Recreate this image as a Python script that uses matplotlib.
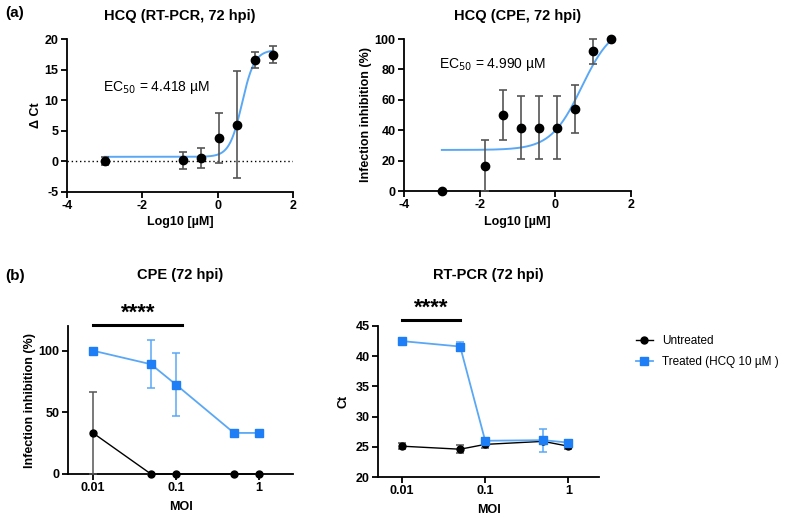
import numpy as np
import matplotlib
matplotlib.use("Agg")
import matplotlib.pyplot as plt
from matplotlib.lines import Line2D

plt.rcParams['font.family'] = ['Liberation Sans', 'DejaVu Sans']
plt.rcParams['axes.unicode_minus'] = False

# ---------------- data ----------------
# (a) left: HCQ RT-PCR dose response
pcr_logx = [-3.0, -0.91, -0.43, 0.046, 0.52, 1.0, 1.48]
pcr_dct = [0.1, 0.2, 0.6, 3.8, 6.0, 16.6, 17.4]
pcr_err = [0.7, 1.4, 1.6, 4.1, 8.7, 1.3, 1.4]
pcr_fit = dict(bottom=0.75, top=18.2, logec50=np.log10(4.418), hill=2.6)

# (a) right: HCQ CPE dose response
cpe_logx = [-3.0, -1.86, -1.39, -0.91, -0.43, 0.046, 0.52, 1.0, 1.48]
cpe_inh = [0.0, 16.7, 50.0, 41.7, 41.7, 41.7, 54.0, 91.8, 100.0]
cpe_err = [0.0, 16.7, 16.5, 20.8, 20.8, 20.8, 16.0, 8.1, 0.0]
cpe_fit = dict(bottom=27.0, top=110.0, logec50=np.log10(4.990), hill=1.06)

# (b) MOI experiments
moi = [0.01, 0.05, 0.1, 0.5, 1.0]
cpe_treated = [100.0, 89.0, 72.5, 33.3, 33.3]
cpe_treated_err = [0.0, 19.3, 25.5, 0.0, 0.0]
cpe_untreated = [33.3, 0.0, 0.0, 0.0, 0.0]
cpe_untreated_err = [33.3, 0.0, 0.0, 0.0, 0.0]

ct_treated = [42.5, 41.6, 26.0, 26.1, 25.7]
ct_treated_err = [0.3, 0.7, 0.4, 1.9, 0.3]
ct_untreated = [25.1, 24.6, 25.4, 25.9, 25.1]
ct_untreated_err = [0.5, 0.7, 0.6, 0.5, 0.5]

BLUE_LINE = '#5AA8F5'
BLUE_MARK = '#1E7EF5'
GREY = '#555555'


def four_pl(x, bottom, top, logec50, hill):
    return bottom + (top - bottom) / (1 + 10 ** ((logec50 - x) * hill))


fig = plt.figure(figsize=(7.87, 5.18), dpi=100)

TICK_FS = 9
LAB_FS = 9
TITLE_FS = 10.5


def style(ax):
    for s in ['top', 'right']:
        ax.spines[s].set_visible(False)
    for s in ['left', 'bottom']:
        ax.spines[s].set_linewidth(1.3)
    ax.tick_params(direction='out', width=1.3, length=4, labelsize=TICK_FS, pad=2)
    for lab in ax.get_xticklabels() + ax.get_yticklabels():
        lab.set_fontweight('bold')


# ---- (a) left
ax1 = fig.add_axes([67 / 787, 1 - 192 / 518, 226 / 787, 153 / 518])
xs = np.linspace(-3, 1.48, 300)
ax1.axhline(0, color='black', lw=1.0, ls=(0, (1, 2)))
ax1.plot(xs, four_pl(xs, **pcr_fit), color=BLUE_LINE, lw=1.4, zorder=2)
ax1.errorbar(pcr_logx, pcr_dct, yerr=pcr_err, fmt='o', color='black', ms=6,
             ecolor=GREY, elinewidth=1.2, capsize=3, capthick=1.2, zorder=3)
ax1.set_xlim(-4, 2)
ax1.set_ylim(-5, 20)
ax1.set_xticks([-4, -2, 0, 2])
ax1.set_yticks([-5, 0, 5, 10, 15, 20])
ax1.set_xlabel('Log10 [µM]', fontsize=LAB_FS, fontweight='bold', labelpad=3)
ax1.set_ylabel('Δ Ct', fontsize=LAB_FS, fontweight='bold', labelpad=2)
ax1.set_title('HCQ (RT-PCR, 72 hpi)', fontsize=TITLE_FS, fontweight='bold', pad=14)
ax1.text(-3.05, 12, r'EC$_{50}$ = 4.418 µM', fontsize=10, va='center')
style(ax1)

# ---- (a) right
ax2 = fig.add_axes([404 / 787, 1 - 191 / 518, 227 / 787, 152 / 518])
xs2 = np.linspace(-3, 1.48, 300)
ax2.plot(xs2, four_pl(xs2, **cpe_fit), color=BLUE_LINE, lw=1.4, zorder=2)
ax2.errorbar(cpe_logx, cpe_inh, yerr=cpe_err, fmt='o', color='black', ms=6,
             ecolor=GREY, elinewidth=1.2, capsize=3, capthick=1.2, zorder=3,
             clip_on=False)
ax2.set_xlim(-4, 2)
ax2.set_ylim(0, 100)
ax2.set_xticks([-4, -2, 0, 2])
ax2.set_yticks([0, 20, 40, 60, 80, 100])
ax2.set_xlabel('Log10 [µM]', fontsize=LAB_FS, fontweight='bold', labelpad=3)
ax2.set_ylabel('Infection inhibition (%)', fontsize=LAB_FS, fontweight='bold', labelpad=2)
ax2.set_title('HCQ (CPE, 72 hpi)', fontsize=TITLE_FS, fontweight='bold', pad=14)
ax2.text(-3.07, 83, r'EC$_{50}$ = 4.990 µM', fontsize=10, va='center')
style(ax2)

# ---- (b) left
ax3 = fig.add_axes([68 / 787, 1 - 474 / 518, 225 / 787, 148 / 518])
ax3.set_xscale('log')
ax3.errorbar(moi, cpe_untreated, yerr=cpe_untreated_err, fmt='-o', color='black',
             lw=1.0, ms=5, ecolor=GREY, elinewidth=1.1, capsize=3, capthick=1.1,
             clip_on=False, zorder=3)
ax3.errorbar(moi, cpe_treated, yerr=cpe_treated_err, fmt='-s', color=BLUE_LINE,
             mfc=BLUE_MARK, mec=BLUE_MARK, lw=1.3, ms=5.5, ecolor=BLUE_LINE,
             elinewidth=1.1, capsize=3, capthick=1.1, clip_on=False, zorder=3)
ax3.set_xlim(10 ** -2.30, 10 ** 0.41)
ax3.set_ylim(0, 120)
ax3.set_yticks([0, 50, 100])
ax3.set_xticks([0.01, 0.1, 1])
ax3.set_xticklabels(['0.01', '0.1', '1'])
ax3.minorticks_off()
ax3.plot([0.01, 0.118], [121, 121], color='black', lw=2.2, clip_on=False)
ax3.text(10 ** -1.46, 121.5, '****', ha='center', va='bottom', fontsize=16, fontweight='bold')
ax3.set_xlabel('MOI', fontsize=LAB_FS, fontweight='bold', labelpad=5)
ax3.set_ylabel('Infection inhibition (%)', fontsize=LAB_FS, fontweight='bold', labelpad=2)
style(ax3)
fig.text(180 / 787, 1 - 275 / 518, 'CPE (72 hpi)', ha='center', va='center',
         fontsize=TITLE_FS, fontweight='bold')

# ---- (b) right
ax4 = fig.add_axes([378 / 787, 1 - 477 / 518, 221 / 787, 151 / 518])
ax4.set_xscale('log')
ax4.errorbar(moi, ct_untreated, yerr=ct_untreated_err, fmt='-o', color='black',
             lw=1.0, ms=5, ecolor=GREY, elinewidth=1.1, capsize=3, capthick=1.1,
             zorder=3)
ax4.errorbar(moi, ct_treated, yerr=ct_treated_err, fmt='-s', color=BLUE_LINE,
             mfc=BLUE_MARK, mec=BLUE_MARK, lw=1.3, ms=5.5, ecolor=BLUE_LINE,
             elinewidth=1.1, capsize=3, capthick=1.1, zorder=3)
ax4.set_xlim(10 ** -2.29, 10 ** 0.37)
ax4.set_ylim(20, 45)
ax4.set_yticks([20, 25, 30, 35, 40, 45])
ax4.set_xticks([0.01, 0.1, 1])
ax4.set_xticklabels(['0.01', '0.1', '1'])
ax4.minorticks_off()
ax4.plot([0.01, 0.05], [46.05, 46.05], color='black', lw=2.2, clip_on=False)
ax4.text(10 ** -1.65, 46.2, '****', ha='center', va='bottom', fontsize=16, fontweight='bold')
ax4.set_xlabel('MOI', fontsize=LAB_FS, fontweight='bold', labelpad=5)
ax4.set_ylabel('Ct', fontsize=LAB_FS, fontweight='bold', labelpad=4)
style(ax4)
fig.text(488 / 787, 1 - 275 / 518, 'RT-PCR (72 hpi)', ha='center', va='center',
         fontsize=TITLE_FS, fontweight='bold')

h1 = Line2D([], [], color='black', lw=1.0, marker='o', ms=5)
h2 = Line2D([], [], color=BLUE_LINE, lw=1.3, marker='s', ms=5.5,
            mfc=BLUE_MARK, mec=BLUE_MARK)
fig.legend([h1, h2], ['Untreated', 'Treated (HCQ 10 µM )'],
           loc='upper left', bbox_to_anchor=(636 / 787, 1 - 335 / 518),
           frameon=False, fontsize=8.5, handlelength=1.4, handletextpad=0.8,
           labelspacing=0.8, borderaxespad=0, borderpad=0)

fig.text(5 / 787, 1 - 13 / 518, '(a)', fontsize=11, fontweight='bold', va='center')
fig.text(5 / 787, 1 - 276 / 518, '(b)', fontsize=11, fontweight='bold', va='center')

fig.savefig('out.png', dpi=100)
